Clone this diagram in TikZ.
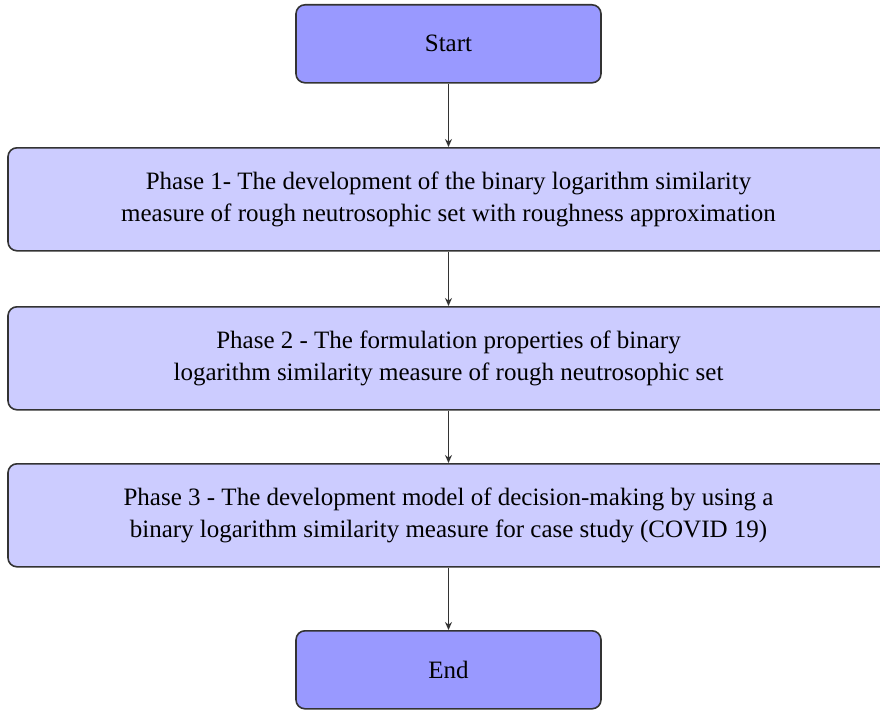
\documentclass[tikz,border=0pt]{standalone}
\usepackage{fontspec}
\setmainfont{Liberation Serif}
\usetikzlibrary{arrows.meta}
\definecolor{termfill}{HTML}{9999FF}
\definecolor{phasefill}{HTML}{CCCCFF}
\definecolor{edge}{HTML}{333333}
\tikzset{
  termbox/.style={draw=edge, line width=1.6pt, fill=termfill, rounded corners=9pt, minimum width=305pt, minimum height=78pt, font=\fontsize{25}{32}\selectfont, anchor=north},
  phasebox/.style={draw=edge, line width=1.6pt, fill=phasefill, rounded corners=9pt, minimum width=881pt, minimum height=103pt, font=\fontsize{25}{32}\selectfont, align=center, anchor=north},
  flow/.style={draw=edge, line width=1.6pt, -{Stealth[length=8pt,width=7pt]}}
}
\begin{document}
\begin{tikzpicture}[x=1pt,y=-1pt]
\useasboundingbox (0,0) rectangle (880,709);
\node[termbox] (start) at (448.5,4) {Start};
\node[phasebox] (p1) at (448.5,147) {Phase 1- The development of the binary logarithm similarity\\measure of rough neutrosophic set with roughness approximation};
\node[phasebox] (p2) at (448.5,306) {Phase 2 - The formulation properties of binary\\logarithm similarity measure of rough neutrosophic set};
\node[phasebox] (p3) at (448.5,463) {Phase 3 - The development model of decision-making by using a\\binary logarithm similarity measure for case study (COVID 19)};
\node[termbox] (end) at (448.5,630) {End};
\draw[flow] (start) -- (p1);
\draw[flow] (p1) -- (p2);
\draw[flow] (p2) -- (p3);
\draw[flow] (p3) -- (end);
\end{tikzpicture}
\end{document}
